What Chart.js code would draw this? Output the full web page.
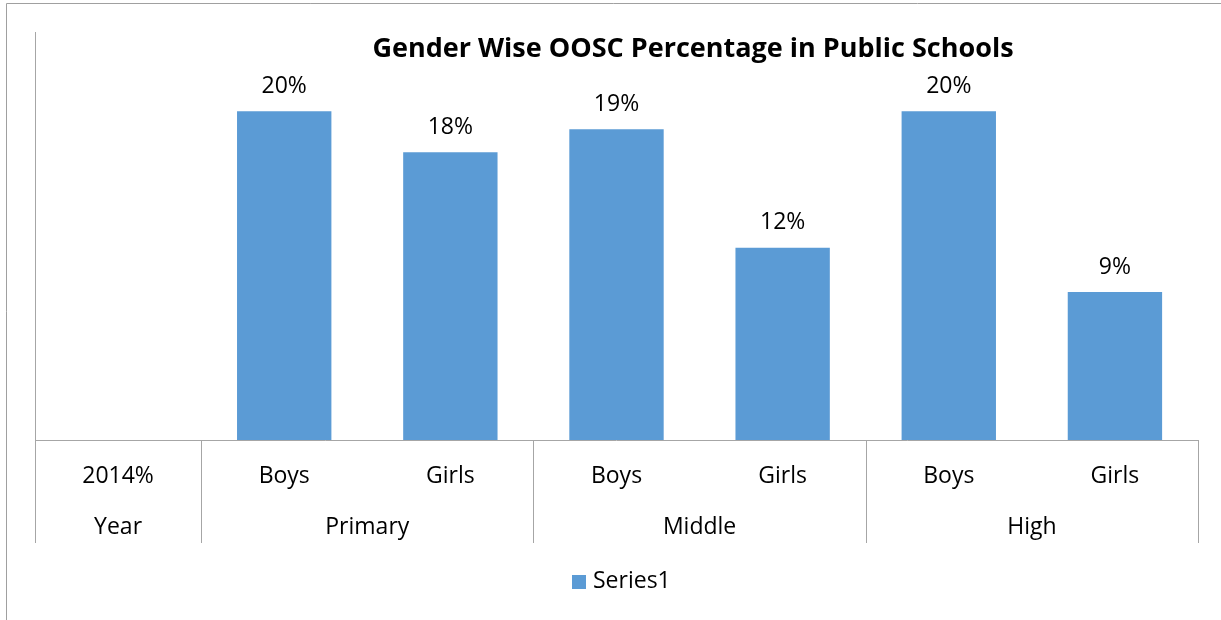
<!DOCTYPE html>
<html>
<head>
<meta charset="utf-8">
<script src="https://cdn.jsdelivr.net/npm/chart.js@4.4.1/dist/chart.umd.min.js"></script>
<style>
  html, body { margin: 0; padding: 0; background: #fff; }
  #wrap { width: 1221px; height: 620px; position: relative; }
</style>
</head>
<body>
<div id="wrap"><canvas id="myChart" width="1221" height="620"></canvas></div>
<script>
const Chart_title = "Gender Wise OOSC Percentage in Public Schools";
const Categories = ["2014%", "Boys", "Girls", "Boys", "Girls", "Boys", "Girls"];
const Groups = ["Year", "Primary", "Middle", "High"];
const Group_spans = [1, 2, 2, 2];
const Oosc_values = [null, 20, 17.5, 18.9, 11.7, 20, 9];
const Series_name = "Series1";

const Bar_color = '#5B9BD5';
const Line_color = '#A6A6A6';
const Font = '"Open Sans", "Noto Sans", sans-serif';

// draws the excel style two level axis, labels, title and legend
const excel_plugin = {
  id: 'excel',
  afterDatasetsDraw(chart) {
    const ctx = chart.ctx;
    const meta = chart.getDatasetMeta(0);
    ctx.save();
    ctx.fillStyle = '#000';
    ctx.font = '23px ' + Font;
    ctx.textAlign = 'center';
    ctx.textBaseline = 'middle';
    meta.data.forEach((bar, i) => {
      const v = Oosc_values[i];
      if (v == null) return;
      ctx.fillText(Math.round(v) + "%", bar.x, bar.y - 25);
    });
    ctx.restore();
  },
  afterDraw(chart) {
    const ctx = chart.ctx;
    const area = chart.chartArea;
    const x = chart.scales.x;
    const half = (x.getPixelForValue(1) - x.getPixelForValue(0)) / 2;
    const axis_bottom = area.bottom + 103;
    ctx.save();

    // outer frame (cropped)
    ctx.strokeStyle = '#A0A0A0';
    ctx.lineWidth = 1;
    ctx.beginPath();
    ctx.moveTo(6.5, 620);
    ctx.lineTo(6.5, 3.5);
    ctx.lineTo(1221, 3.5);
    ctx.stroke();

    // axis lines
    ctx.strokeStyle = Line_color;
    ctx.beginPath();
    ctx.moveTo(Math.round(area.left) + 0.5, area.top + 3);
    ctx.lineTo(Math.round(area.left) + 0.5, axis_bottom);
    ctx.moveTo(area.left, Math.round(area.bottom) + 0.5);
    ctx.lineTo(area.right, Math.round(area.bottom) + 0.5);
    let idx = 0;
    for (let g = 0; g < Groups.length; g++) {
      idx += Group_spans[g];
      const px = Math.round(x.getPixelForValue(idx - 1) + half) + 0.5;
      ctx.moveTo(px, area.bottom);
      ctx.lineTo(px, axis_bottom);
    }
    ctx.stroke();

    // tick labels
    ctx.fillStyle = '#000';
    ctx.font = '23px ' + Font;
    ctx.textAlign = 'center';
    ctx.textBaseline = 'middle';
    Categories.forEach((c, i) => {
      ctx.fillText(c, x.getPixelForValue(i), area.bottom + 36);
    });
    idx = 0;
    for (let g = 0; g < Groups.length; g++) {
      const first = x.getPixelForValue(idx) - half;
      const last = x.getPixelForValue(idx + Group_spans[g] - 1) + half;
      ctx.fillText(Groups[g], (first + last) / 2, area.bottom + 87);
      idx += Group_spans[g];
    }

    // title
    ctx.font = 'bold 27px ' + Font;
    ctx.fillText(Chart_title, 693, 49);

    // legend
    ctx.font = '23px ' + Font;
    ctx.textAlign = 'left';
    ctx.fillStyle = Bar_color;
    ctx.fillRect(572, 575, 14, 14);
    ctx.fillStyle = '#000';
    ctx.fillText(Series_name, 593, 581);
    ctx.restore();
  }
};

window.onload = function setup() {
  new Chart("myChart", {
    type: "bar",
    data: {
      labels: Categories,
      datasets: [{
        label: Series_name,
        data: Oosc_values,
        backgroundColor: Bar_color,
        borderWidth: 0,
        barPercentage: 0.568,
        categoryPercentage: 1.0,
      }]
    },
    options: {
      responsive: false,
      animation: false,
      layout: {padding: {left: 35, right: 23, top: 29, bottom: 180}},
      plugins: {
        legend: {display: false},
        title: {display: false},
        tooltip: {enabled: false},
      },
      scales: {
        x: {display: false},
        y: {display: false, min: 0, max: 25},
      },
    },
    plugins: [excel_plugin],
  });
}
</script>
</body>
</html>
